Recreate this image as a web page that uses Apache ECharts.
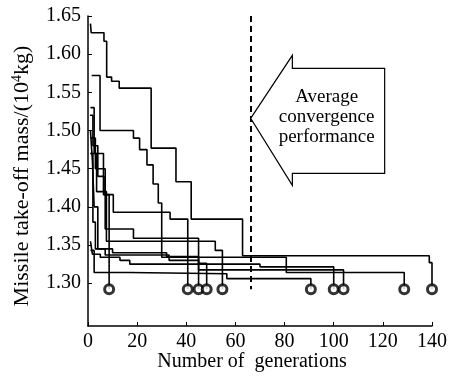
<!DOCTYPE html>
<html>
<head>
<meta charset="utf-8">
<script src="https://cdn.jsdelivr.net/npm/echarts@6/dist/echarts.min.js"></script>
<style>
  html, body { margin: 0; padding: 0; background: #fff; }
  #chart { width: 453px; height: 376px; }
</style>
</head>
<body>
<div id="chart"></div>
<script>
// each run: [generation, best mass] steps; last point is where it stops (circle)
const run140 = [[1, 1.64], [1.3, 1.628], [6.5, 1.617], [7.6, 1.570], [9.6, 1.5645], [12.7, 1.5555], [25.7, 1.477], [35.8, 1.433], [42, 1.384], [62.9, 1.336], [138.9, 1.327], [140, 1.292]]
const run129 = [[1.5, 1.572], [4.9, 1.50], [18.5, 1.49], [21, 1.475], [24, 1.455], [26.5, 1.43], [28.6, 1.405], [30, 1.334], [80.7, 1.314], [128.7, 1.292]]
const run41 = [[1, 1.53], [2.5, 1.47], [6.3, 1.416], [10.3, 1.393], [33.4, 1.384], [40.6, 1.292]]
const run45 = [[1, 1.49], [3, 1.45], [7, 1.371], [18.5, 1.359], [45, 1.292]]
const run48 = [[1, 1.50], [1.8, 1.46], [2.5, 1.40], [4, 1.345], [7, 1.337], [33, 1.33], [45, 1.326], [48.3, 1.292]]
const run55 = [[1, 1.47], [3.5, 1.42], [7.5, 1.355], [51.8, 1.343], [54.7, 1.292]]
const run91 = [[1, 1.343], [2.5, 1.314], [16.8, 1.3125], [56.5, 1.306], [90.7, 1.292]]
const run100 = [[1, 1.355], [1.8, 1.338], [5, 1.334], [13, 1.33], [17, 1.325], [70, 1.3215], [100, 1.292]]
const run104 = [[1, 1.47], [2, 1.38], [3, 1.345], [10, 1.34], [32, 1.335], [45, 1.3175], [104, 1.292]]
const run9 = [[0.8, 1.52], [2, 1.48], [4, 1.44], [6.5, 1.416], [8.6, 1.292]]
const runs = [run140, run129, run41, run45, run48, run55, run91, run100, run104, run9]
const yTicks = [1.30, 1.35, 1.40, 1.45, 1.50, 1.55, 1.60, 1.65]
const avgGen = 66.2
const arrowTip = [66.2, 1.516]

const font = 'Liberation Serif'
const chart = echarts.init(document.getElementById('chart'))

const lineSeries = runs.map(r => ({
    type: 'line',
    step: 'end',
    data: r,
    symbol: 'none',
    lineStyle: { color: '#000', width: 1.6 },
    animation: false
}))

// dashed line = average convergence generation
lineSeries[0].markLine = {
    silent: true,
    symbol: 'none',
    label: { show: false },
    lineStyle: { color: '#000', width: 2, type: [6, 4] },
    data: [[{ coord: [avgGen, 1.65] }, { coord: [avgGen, 1.292] }]]
}

chart.setOption({
    animation: false,
    grid: { left: 88, right: 21, top: 16, bottom: 50, containLabel: false, outerBoundsMode: 'none' },
    xAxis: {
        type: 'value',
        min: 0,
        max: 140,
        interval: 20,
        name: 'Number of  generations',
        nameLocation: 'middle',
        nameGap: 26,
        nameMoveOverlap: false,
        nameTextStyle: { fontFamily: font, fontSize: 20, color: '#000', padding: [0, 16, 0, 0] },
        axisLine: { lineStyle: { color: '#000', width: 1.5 } },
        axisTick: { inside: true, length: 4, lineStyle: { color: '#000' } },
        axisLabel: { fontFamily: font, fontSize: 20, color: '#000', margin: 6 },
        splitLine: { show: false }
    },
    yAxis: {
        type: 'value',
        min: 1.244,
        max: 1.65,
        name: 'Missile take-off mass/(10{sup|4}kg)',
        nameLocation: 'middle',
        nameGap: 54,
        nameRotate: 90,
        nameMoveOverlap: false,
        nameTextStyle: {
            fontFamily: font, fontSize: 22, color: '#000', padding: [0, 10, 0, 0],
            rich: { sup: { fontFamily: font, fontSize: 14, color: '#000', padding: [0, 0, 10, 0] } }
        },
        axisLine: { show: true, lineStyle: { color: '#000', width: 1.5 } },
        axisTick: { inside: true, length: 4, customValues: yTicks, lineStyle: { color: '#000' } },
        axisLabel: {
            fontFamily: font, fontSize: 20, color: '#000', margin: 7,
            customValues: yTicks,
            formatter: v => v.toFixed(2)
        },
        splitLine: { show: false }
    },
    series: lineSeries.concat([{
        type: 'scatter',
        data: runs.map(r => r[r.length - 1]),
        symbol: 'circle',
        symbolSize: 9,
        itemStyle: { color: '#fff', borderColor: '#000', borderWidth: 3 },
        z: 5
    }])
})

// block arrow pointing at the average line
const tip = chart.convertToPixel({ gridIndex: 0 }, arrowTip)
const tx = tip[0], ty = tip[1]
chart.setOption({
    graphic: [{
        type: 'polygon',
        shape: {
            points: [
                [tx, ty], [tx + 41.7, ty - 63], [tx + 41.7, ty - 50], [tx + 134, ty - 50],
                [tx + 134, ty + 55], [tx + 41.7, ty + 55], [tx + 41.7, ty + 67]
            ]
        },
        style: { fill: '#fff', stroke: '#000', lineWidth: 1.2 },
        z: 10
    }, {
        type: 'text',
        x: tx + 76,
        y: ty - 1.5,
        style: {
            text: 'Average\nconvergence\nperformance',
            fontFamily: font,
            fontSize: 19,
            lineHeight: 20,
            fill: '#000',
            align: 'center',
            verticalAlign: 'middle'
        },
        z: 11
    }]
})
</script>
</body>
</html>
